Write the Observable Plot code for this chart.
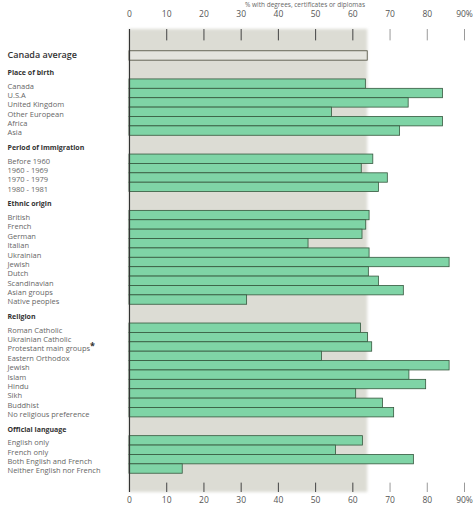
<!DOCTYPE html>
<html><head><meta charset="utf-8">
<script src="https://cdn.jsdelivr.net/npm/d3@7"></script>
<script src="https://cdn.jsdelivr.net/npm/@observablehq/plot@0.6"></script>
<style>
body{margin:0;background:#fff;}
#wrap{position:relative;width:475px;height:505px;font-family:"Open Sans",sans-serif;}
#title{position:absolute;top:0px;left:240px;width:130px;text-align:center;font-size:6.5px;color:#666;white-space:nowrap;line-height:9px;}
</style></head><body>
<div id="wrap"><div id="title">% with degrees, certificates or diplomas</div></div>
<script>
const avgLabel = "Canada average";
const avgValue = 64;
const groupNames = ["Place of birth","Period of immigration","Ethnic origin","Religion","Official language"];
const birthLabels = ["Canada","U.S.A","United Kingdom","Other European","Africa","Asia"];
const birthValues = [63.5,84.2,75,54.4,84.2,72.7];
const periodLabels = ["Before 1960","1960 - 1969","1970 - 1979","1980 - 1981"];
const periodValues = [65.5,62.4,69.4,67];
const ethnicLabels = ["British","French","German","Italian","Ukrainian","Jewish","Dutch","Scandinavian","Asian groups","Native peoples"];
const ethnicValues = [64.5,63.6,62.6,48.1,64.5,86,64.3,67,73.7,31.6];
const religionLabels = ["Roman Catholic","Ukrainian Catholic","Protestant main groups","Eastern Orthodox","Jewish","Islam","Hindu","Sikh","Buddhist","No religious preference"];
const religionValues = [62.2,64.1,65.2,51.7,86,75.2,79.7,60.9,68.1,71.1];
const languageLabels = ["English only","French only","Both English and French","Neither English nor French"];
const languageValues = [62.7,55.5,76.4,14.3];
const xTicks = [0,10,20,30,40,50,60,70,80,90];

const groupLabels = [birthLabels, periodLabels, ethnicLabels, religionLabels, languageLabels];
const groupValues = [birthValues, periodValues, ethnicValues, religionValues, languageValues];
const domain = ["top-a","top-b","avg"];
const headers = [];
const items = [];
groupNames.forEach((g,i)=>{
  domain.push(`gap-${i}`, `head-${i}`);
  headers.push({key:`head-${i}`, label:g});
  groupLabels[i].forEach((l,j)=>{
    const key = `${i}-${j}`;
    domain.push(key);
    items.push({key, label:l, value:groupValues[i][j]});
  });
});
domain.push("end-a","end-b");

const tickColor = d => d > avgValue ? "#9a9a9a" : "#444";
const chart = Plot.plot({
  width:475, height:505, marginLeft:129, marginRight:11, marginTop:32, marginBottom:13,
  style:{fontFamily:"Open Sans, sans-serif", background:"transparent"},
  x:{domain:[0,90], axis:null},
  y:{type:"band", domain, padding:0, round:false, axis:null},
  marks:[
    Plot.rect([avgValue], {x1:0, x2:d=>d, fill:"#dcdcd4", insetTop:-3}),
    Plot.barX([avgValue], {x:d=>d, y:()=>"avg", fill:"#e4e4de", stroke:"#4a4a3a", strokeWidth:0.8}),
    Plot.barX(items, {x:"value", y:"key", fill:"#7fd4a6", stroke:"#35573d", strokeWidth:0.8}),
    Plot.tickX(xTicks.slice(1), {x:d=>d, y:()=>"top-a", stroke:tickColor, strokeWidth:1, insetTop:-3, insetBottom:1}),
    Plot.tickX(xTicks.slice(1), {x:d=>d, y:()=>"end-b", stroke:tickColor, strokeWidth:1}),
    Plot.ruleX([0], {stroke:"#333", strokeWidth:1.2, insetTop:-3}),
    Plot.axisX({ticks:xTicks, anchor:"top", tickSize:0, tickPadding:16, tickFormat:d=> d===90?"90%":String(d), fontSize:8.5, color:"#555", label:null}),
    Plot.axisX({ticks:xTicks, anchor:"bottom", tickSize:0, tickPadding:4, tickFormat:d=> d===90?"90%":String(d), fontSize:8.5, color:"#555", label:null}),
    Plot.text([avgLabel], {text:d=>d, y:()=>"avg", frameAnchor:"left", dx:-122, textAnchor:"start", fontSize:9, fontWeight:600, fill:"#333", dy:-1}),
    Plot.text(headers, {text:"label", y:"key", frameAnchor:"left", dx:-122, textAnchor:"start", fontSize:7, fontWeight:700, fill:"#333", dy:-2}),
    Plot.text(items, {text:"label", y:"key", frameAnchor:"left", dx:-122, textAnchor:"start", fontSize:7.5, fill:"#666", dy:2})
  ]
});
const svg = d3.select(chart);
const defs = svg.insert("defs", ":first-child");
defs.append("filter").attr("id","soft").append("feGaussianBlur").attr("stdDeviation",1.5);
svg.select('g[aria-label="rect"]').attr("filter","url(#soft)");
svg.selectAll("text").filter(function(){return this.textContent === "Protestant main groups";})
  .append("tspan").attr("dy","-2").attr("font-weight","bold").attr("font-size","9").attr("fill","#333").text("*");
document.getElementById("wrap").appendChild(chart);
</script>
</body></html>
